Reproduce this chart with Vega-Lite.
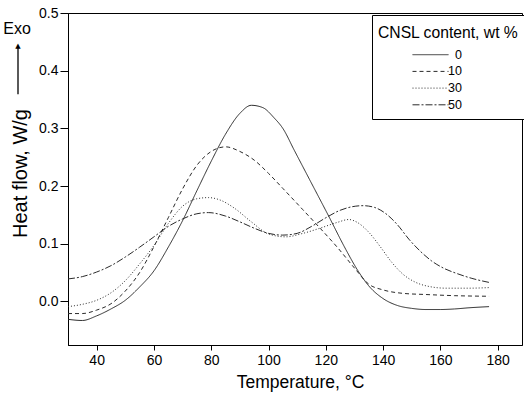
{
  "$schema": "https://vega.github.io/schema/vega-lite/v6.json",
  "width": 454,
  "height": 332,
  "autosize": "none",
  "padding": {"left": 68, "top": 13, "right": 2, "bottom": 58},
  "background": "white",
  "config": {
    "view": {"stroke": "black", "strokeWidth": 1},
    "font": "Liberation Sans",
    "axis": {"domainColor": "black", "tickColor": "black", "labelColor": "black", "titleColor": "black", "grid": false, "labelFont": "Liberation Sans", "titleFont": "Liberation Sans", "titleFontWeight": "normal", "labelFontSize": 14, "titleFontSize": 18, "labelOverlap": false, "labelFlush": false}
  },
  "datasets": {
    "dsc": [
      {"t": 30, "h": -0.031, "c": "0"}, {"t": 35, "h": -0.033, "c": "0"}, {"t": 40, "h": -0.025, "c": "0"}, {"t": 45, "h": -0.013, "c": "0"}, {"t": 50, "h": 0.002, "c": "0"}, {"t": 55, "h": 0.025, "c": "0"}, {"t": 60, "h": 0.053, "c": "0"}, {"t": 65, "h": 0.094, "c": "0"}, {"t": 70, "h": 0.14, "c": "0"}, {"t": 75, "h": 0.192, "c": "0"}, {"t": 80, "h": 0.243, "c": "0"}, {"t": 85, "h": 0.29, "c": "0"}, {"t": 90, "h": 0.326, "c": "0"}, {"t": 94, "h": 0.34, "c": "0"}, {"t": 98, "h": 0.336, "c": "0"}, {"t": 102, "h": 0.318, "c": "0"}, {"t": 105, "h": 0.3, "c": "0"}, {"t": 109, "h": 0.262, "c": "0"}, {"t": 115, "h": 0.205, "c": "0"}, {"t": 121, "h": 0.148, "c": "0"}, {"t": 127, "h": 0.09, "c": "0"}, {"t": 131, "h": 0.055, "c": "0"}, {"t": 135, "h": 0.027, "c": "0"}, {"t": 140, "h": 0.005, "c": "0"}, {"t": 145, "h": -0.007, "c": "0"}, {"t": 150, "h": -0.012, "c": "0"}, {"t": 155, "h": -0.014, "c": "0"}, {"t": 160, "h": -0.014, "c": "0"}, {"t": 165, "h": -0.013, "c": "0"}, {"t": 170, "h": -0.011, "c": "0"}, {"t": 177, "h": -0.009, "c": "0"},
      {"t": 30, "h": -0.021, "c": "10"}, {"t": 35, "h": -0.021, "c": "10"}, {"t": 40, "h": -0.015, "c": "10"}, {"t": 45, "h": -0.004, "c": "10"}, {"t": 50, "h": 0.018, "c": "10"}, {"t": 55, "h": 0.05, "c": "10"}, {"t": 60, "h": 0.095, "c": "10"}, {"t": 65, "h": 0.145, "c": "10"}, {"t": 70, "h": 0.195, "c": "10"}, {"t": 75, "h": 0.236, "c": "10"}, {"t": 80, "h": 0.26, "c": "10"}, {"t": 85, "h": 0.268, "c": "10"}, {"t": 90, "h": 0.26, "c": "10"}, {"t": 95, "h": 0.245, "c": "10"}, {"t": 100, "h": 0.222, "c": "10"}, {"t": 105, "h": 0.196, "c": "10"}, {"t": 112, "h": 0.159, "c": "10"}, {"t": 118, "h": 0.127, "c": "10"}, {"t": 124, "h": 0.094, "c": "10"}, {"t": 130, "h": 0.058, "c": "10"}, {"t": 135, "h": 0.03, "c": "10"}, {"t": 140, "h": 0.02, "c": "10"}, {"t": 147, "h": 0.014, "c": "10"}, {"t": 155, "h": 0.012, "c": "10"}, {"t": 165, "h": 0.01, "c": "10"}, {"t": 177, "h": 0.009, "c": "10"},
      {"t": 30, "h": -0.009, "c": "30"}, {"t": 35, "h": -0.005, "c": "30"}, {"t": 40, "h": 0.002, "c": "30"}, {"t": 45, "h": 0.015, "c": "30"}, {"t": 50, "h": 0.036, "c": "30"}, {"t": 55, "h": 0.065, "c": "30"}, {"t": 60, "h": 0.097, "c": "30"}, {"t": 65, "h": 0.135, "c": "30"}, {"t": 70, "h": 0.165, "c": "30"}, {"t": 75, "h": 0.178, "c": "30"}, {"t": 79, "h": 0.18, "c": "30"}, {"t": 83, "h": 0.176, "c": "30"}, {"t": 88, "h": 0.162, "c": "30"}, {"t": 94, "h": 0.138, "c": "30"}, {"t": 100, "h": 0.117, "c": "30"}, {"t": 106, "h": 0.112, "c": "30"}, {"t": 112, "h": 0.118, "c": "30"}, {"t": 118, "h": 0.127, "c": "30"}, {"t": 124, "h": 0.137, "c": "30"}, {"t": 128, "h": 0.142, "c": "30"}, {"t": 131, "h": 0.137, "c": "30"}, {"t": 135, "h": 0.12, "c": "30"}, {"t": 139, "h": 0.095, "c": "30"}, {"t": 143, "h": 0.068, "c": "30"}, {"t": 147, "h": 0.047, "c": "30"}, {"t": 151, "h": 0.034, "c": "30"}, {"t": 156, "h": 0.026, "c": "30"}, {"t": 162, "h": 0.023, "c": "30"}, {"t": 170, "h": 0.023, "c": "30"}, {"t": 177, "h": 0.024, "c": "30"},
      {"t": 30, "h": 0.039, "c": "50"}, {"t": 35, "h": 0.043, "c": "50"}, {"t": 40, "h": 0.051, "c": "50"}, {"t": 45, "h": 0.062, "c": "50"}, {"t": 50, "h": 0.077, "c": "50"}, {"t": 55, "h": 0.094, "c": "50"}, {"t": 60, "h": 0.112, "c": "50"}, {"t": 65, "h": 0.13, "c": "50"}, {"t": 70, "h": 0.143, "c": "50"}, {"t": 75, "h": 0.152, "c": "50"}, {"t": 79, "h": 0.154, "c": "50"}, {"t": 85, "h": 0.148, "c": "50"}, {"t": 90, "h": 0.138, "c": "50"}, {"t": 95, "h": 0.127, "c": "50"}, {"t": 100, "h": 0.118, "c": "50"}, {"t": 105, "h": 0.115, "c": "50"}, {"t": 110, "h": 0.118, "c": "50"}, {"t": 115, "h": 0.13, "c": "50"}, {"t": 120, "h": 0.145, "c": "50"}, {"t": 125, "h": 0.158, "c": "50"}, {"t": 129, "h": 0.164, "c": "50"}, {"t": 133, "h": 0.166, "c": "50"}, {"t": 137, "h": 0.163, "c": "50"}, {"t": 141, "h": 0.152, "c": "50"}, {"t": 145, "h": 0.133, "c": "50"}, {"t": 149, "h": 0.108, "c": "50"}, {"t": 153, "h": 0.087, "c": "50"}, {"t": 157, "h": 0.07, "c": "50"}, {"t": 161, "h": 0.058, "c": "50"}, {"t": 166, "h": 0.048, "c": "50"}, {"t": 171, "h": 0.04, "c": "50"}, {"t": 177, "h": 0.033, "c": "50"}
    ],
    "note": [{"label": "Exo", "head": "▲", "tx": 30, "ty": 0.473, "a0": 0.359, "a1": 0.44, "tip": 0.443}]
  },
  "layer": [
    {
      "data": {"name": "dsc"},
      "mark": {"type": "line", "interpolate": "monotone", "strokeWidth": 1, "color": "#2a2a2a"},
      "encoding": {
        "x": {
          "field": "t", "type": "quantitative",
          "scale": {"domain": [30, 188.5], "nice": false, "zero": false},
          "axis": {
            "title": "Temperature, °C",
            "titleFontSize": 17.5,
            "values": [40, 60, 80, 100, 120, 140, 160, 180],
            "tickSize": 5,
            "labelPadding": 3,
            "titleX": 232,
            "titleY": 42,
            "titleBaseline": "alphabetic"
          }
        },
        "y": {
          "field": "h", "type": "quantitative",
          "scale": {"domain": [-0.0755, 0.5], "nice": false, "zero": false},
          "axis": {
            "title": "Heat flow, W/g",
            "titleFontSize": 20,
            "values": [0, 0.1, 0.2, 0.3, 0.4, 0.5],
            "format": ".1f",
            "tickSize": 8,
            "labelPadding": 2,
            "titleX": -42,
            "titleY": 160,
            "titleBaseline": "alphabetic"
          }
        },
        "strokeDash": {
          "field": "c", "type": "nominal",
          "scale": {"domain": ["0", "10", "30", "50"], "range": [[1, 0], [4, 3], [1, 2], [7, 2, 2, 2]]},
          "legend": {
            "title": "CNSL content, wt %",
            "orient": "none", "legendX": 304, "legendY": 2,
            "padding": 6, "strokeColor": "black", "fillColor": "white",
            "titleFont": "Liberation Sans", "titleFontSize": 15.7, "titleFontWeight": "normal", "titleColor": "black",
            "titleBaseline": "line-top", "titleLineHeight": 24, "titlePadding": 10,
            "labelFont": "Liberation Sans", "labelFontSize": 12.5, "labelColor": "black",
            "labelAlign": "right", "labelOffset": 13,
            "symbolType": "stroke", "symbolSize": 1296, "symbolStrokeWidth": 1, "symbolStrokeColor": "#2a2a2a",
            "symbolOffset": 34, "clipHeight": 16, "rowPadding": 0.7
          }
        }
      }
    },
    {
      "data": {"name": "note"},
      "mark": {"type": "text", "fontSize": 16, "font": "Liberation Sans", "color": "black", "dx": -51, "align": "center", "baseline": "middle"},
      "encoding": {"x": {"field": "tx", "type": "quantitative"}, "y": {"field": "ty", "type": "quantitative"}, "text": {"field": "label"}}
    },
    {
      "data": {"name": "note"},
      "mark": {"type": "rule", "color": "black", "strokeWidth": 1.3, "xOffset": -50},
      "encoding": {"x": {"field": "tx", "type": "quantitative"}, "y": {"field": "a0", "type": "quantitative"}, "y2": {"field": "a1"}}
    },
    {
      "data": {"name": "note"},
      "mark": {"type": "text", "fontSize": 7, "font": "DejaVu Sans", "color": "black", "dx": -50, "align": "center", "baseline": "middle"},
      "encoding": {"x": {"field": "tx", "type": "quantitative"}, "y": {"field": "tip", "type": "quantitative"}, "text": {"field": "head"}}
    }
  ]
}
